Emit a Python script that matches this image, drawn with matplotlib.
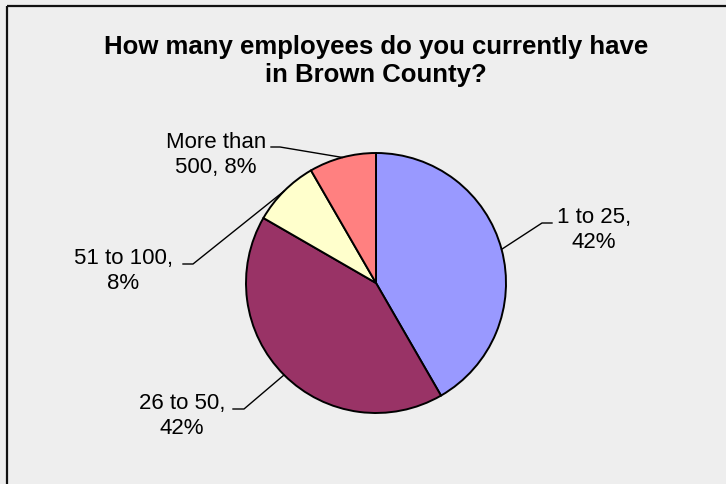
import numpy as np
import matplotlib
matplotlib.use("Agg")
import matplotlib.pyplot as plt

# Survey answers: how many employees in Brown County
categories = ["1 to 25", "26 to 50", "51 to 100", "More than 500"]
counts = [5, 5, 1, 1]
colors = ["#9999FF", "#993366", "#FFFFCC", "#FF8080"]
title = "How many employees do you currently have\nin Brown County?"

W, H = 726, 484
fig = plt.figure(figsize=(W / 100, H / 100), dpi=100)
fig.patch.set_facecolor("#EEEEEE")
ax = fig.add_axes([0, 0, 1, 1])
ax.set_facecolor("#EEEEEE")
ax.axis("off")

# pie in pixel coordinates (y measured from the bottom)
cx, cy, r = 376, H - 283, 130
wedges, _ = ax.pie(counts, colors=colors, startangle=90, counterclock=False,
                   center=(cx, cy), radius=r, frame=True,
                   wedgeprops=dict(edgecolor="black", linewidth=1.4))
ax.set_xlim(0, W)
ax.set_ylim(0, H)
ax.set_aspect("equal")
ax.axis("off")

# outer frame: only the left and top edges fall inside the figure
ax.plot([7, 7], [0, H - 6], color="#111111", lw=1.6, solid_capstyle="butt")
ax.plot([7, W], [H - 6, H - 6], color="#111111", lw=1.6, solid_capstyle="butt")

ax.text(376, H - 61, title, ha="center", va="center", fontsize=18.5,
        fontweight="bold", family="Liberation Sans", linespacing=1.17)

total = sum(counts)
pcts = [c / total * 100 for c in counts]

# label centre, elbow of the leader line, and end of the horizontal stub
label_pos = [(594, 230), (182, 416), (123, 271), (216, 155)]
elbows = [(542, 223), (244, 409), (193, 264), (280, 147)]
stubs = [(552, 223), (233, 409), (183, 264), (271, 147)]

start = 90.0
for cat, cnt, pct, lp, el, st in zip(categories, counts, pcts, label_pos, elbows, stubs):
    span = cnt / total * 360
    mid = np.deg2rad(start - span / 2)
    start -= span
    ex, ey = cx + r * np.cos(mid), cy + r * np.sin(mid)
    ax.plot([ex, el[0], st[0]], [ey, H - el[1], H - st[1]], color="black", lw=1.0)
    if cat == "More than 500":
        txt = f"More than\n500, {pct:.0f}%"
    else:
        txt = f"{cat},\n{pct:.0f}%"
    ax.text(lp[0], H - lp[1], txt, ha="center", va="center", fontsize=16,
            family="Liberation Sans", linespacing=1.24)

fig.savefig("out.png", dpi=100, facecolor=fig.get_facecolor())
